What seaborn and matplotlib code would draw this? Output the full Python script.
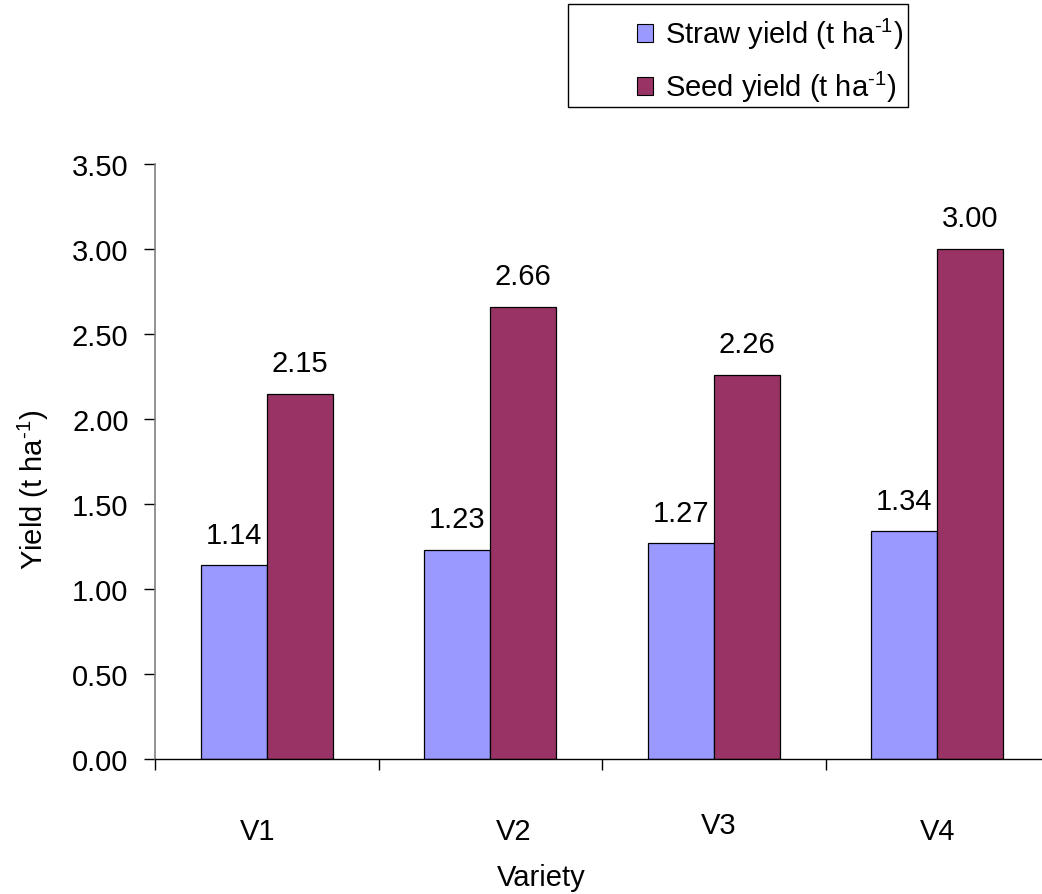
import matplotlib
matplotlib.use("Agg")
import matplotlib.pyplot as plt
from matplotlib.patches import Rectangle
from matplotlib.ticker import FixedLocator, FormatStrFormatter
from matplotlib.transforms import ScaledTranslation
import seaborn as sns
import pandas as pd

varieties = ["V1", "V2", "V3", "V4"]
straw_yield = [1.14, 1.23, 1.27, 1.34]
seed_yield = [2.15, 2.66, 2.26, 3.00]
unit = "(t ha$^{\\mathrm{\u2010}1}$)"
series_names = ["Straw yield " + unit, "Seed yield " + unit]
series_colors = ["#9999FF", "#993366"]
y_ticks = [0.0, 0.5, 1.0, 1.5, 2.0, 2.5, 3.0, 3.5]

df = pd.DataFrame({
    "Variety": varieties * 2,
    "Yield": straw_yield + seed_yield,
    "Series": [series_names[0]] * len(varieties) + [series_names[1]] * len(varieties),
})

sns.set_theme(style="white")
plt.rcParams["font.family"] = ["Liberation Sans", "DejaVu Sans"]
plt.rcParams["mathtext.fontset"] = "custom"
plt.rcParams["mathtext.rm"] = "Liberation Sans"
plt.rcParams["mathtext.it"] = "Liberation Sans"
for key in ["text.color", "axes.labelcolor", "xtick.color", "ytick.color"]:
    plt.rcParams[key] = "black"

FS = 21

fig = plt.figure(figsize=(10.42, 8.95), dpi=100)
ax = fig.add_axes([155 / 1042, 135 / 895, 894 / 1042, 595 / 895])

sns.barplot(data=df, x="Variety", y="Yield", hue="Series", order=varieties,
            hue_order=series_names, palette=series_colors, saturation=1,
            width=0.59, edgecolor="black", linewidth=0.9, ax=ax)

# value labels above each bar
for container, vals in zip(ax.containers, [straw_yield, seed_yield]):
    for bar, v in zip(container, vals):
        ax.annotate(f"{v:.2f}", (bar.get_x() + bar.get_width() / 2, v),
                    xytext=(0, 22), textcoords="offset points",
                    ha="center", va="center", fontsize=FS, color="black")

ax.set_xlim(-0.5, len(varieties) - 0.5)
ax.set_ylim(0, 3.5)
ax.yaxis.set_major_locator(FixedLocator(y_ticks))
ax.yaxis.set_major_formatter(FormatStrFormatter("%.2f"))

# category boundary ticks on the x axis, labels sit well below
ax.set_xticks([i - 0.5 for i in range(len(varieties))], minor=True)
ax.tick_params(axis="x", which="minor", direction="out", length=8, width=1, color="black", bottom=True)
ax.tick_params(axis="x", which="major", length=0, pad=42, labelsize=FS)
ax.tick_params(axis="y", which="major", direction="out", length=8, width=1, color="black",
               left=True, pad=11, labelsize=FS)

# individual nudges of the category labels (in pixels)
label_shift = {"V1": (-9, 0), "V2": (23, 0), "V3": (5, 6), "V4": (0, 0)}
for lab, name in zip(ax.get_xticklabels(), varieties):
    dx, dy = label_shift[name]
    lab.set_transform(lab.get_transform() + ScaledTranslation(dx / 100, dy / 100, fig.dpi_scale_trans))

for s in ["top", "right"]:
    ax.spines[s].set_visible(False)
ax.spines["left"].set_color("#808080")
ax.spines["left"].set_linewidth(1.2)
ax.spines["bottom"].set_color("black")
ax.spines["bottom"].set_linewidth(1.0)

ax.set_xlabel("Variety", fontsize=FS)
ax.xaxis.set_label_coords((541 - 155) / 894, -(878 - 760) / 595)
ax.xaxis.label.set_va("center")
ax.set_ylabel("Yield " + unit, fontsize=FS)
ax.yaxis.set_label_coords(-(155 - 33) / 894, (760 - 490) / 595)
ax.yaxis.label.set_va("center")

handles, labels = ax.get_legend_handles_labels()
if ax.get_legend() is not None:
    ax.get_legend().remove()
leg = fig.legend(handles, labels, loc="upper left",
                 bbox_to_anchor=(637 / 1042, (895 - 17) / 895),
                 frameon=False, fontsize=FS, handlelength=0.55, handleheight=0.55,
                 handletextpad=0.42, labelspacing=0.62, borderpad=0, borderaxespad=0)
for h in leg.legend_handles:
    h.set_edgecolor("black")
    h.set_linewidth(0.8)

fig.patches.append(Rectangle((568 / 1042, (895 - 108) / 895), 340 / 1042, 103 / 895,
                             transform=fig.transFigure, fill=False,
                             edgecolor="black", linewidth=1.0))

fig.savefig("out.png", dpi=100, facecolor="white")
